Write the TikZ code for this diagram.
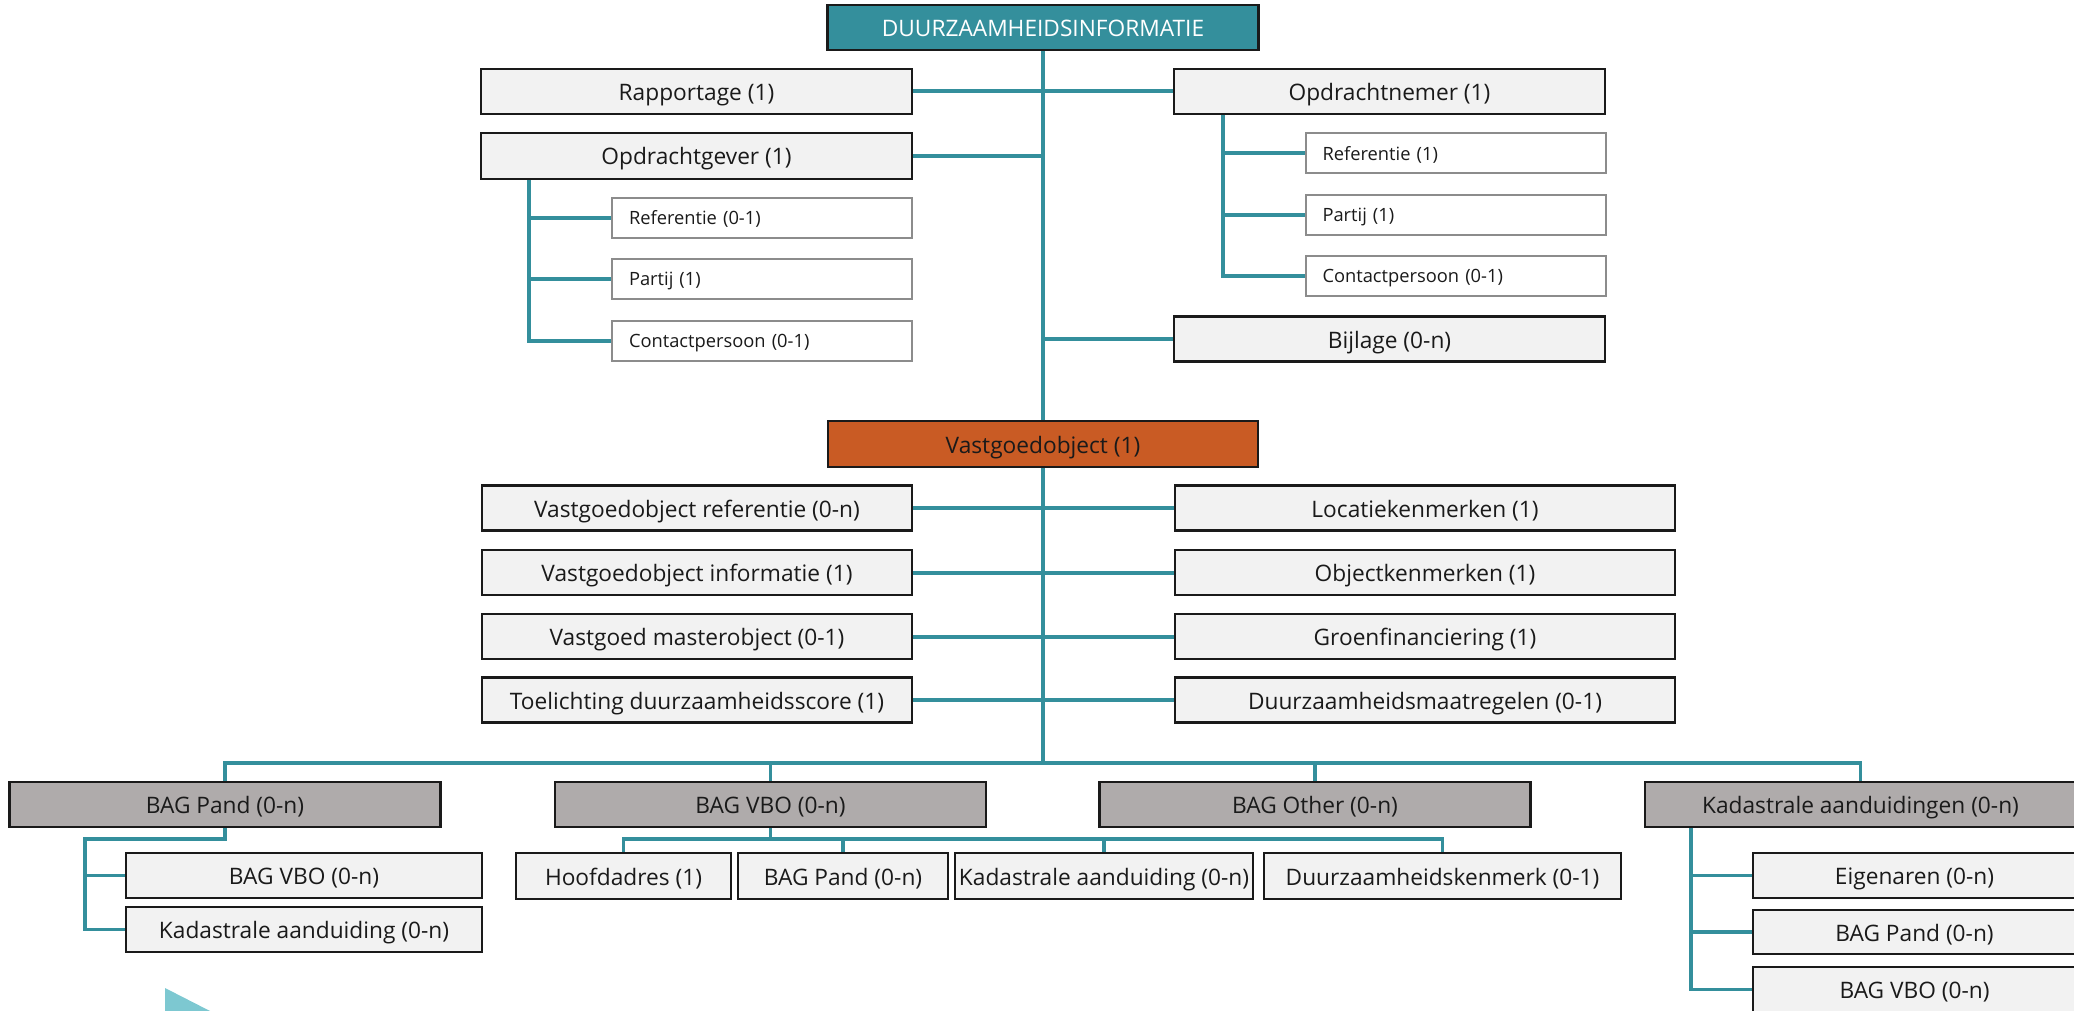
\documentclass[tikz,border=0pt]{standalone}
\usepackage{fontspec}
\setmainfont{Open Sans}
\usetikzlibrary{backgrounds}
\definecolor{teal1}{HTML}{348F9C}
\definecolor{orng}{HTML}{C95B24}
\definecolor{lgrey}{HTML}{F2F2F2}
\definecolor{dgrey}{HTML}{AFABAB}
\definecolor{sgrey}{HTML}{8C8C8C}
\definecolor{trico}{HTML}{7DC8D1}
\definecolor{ink}{HTML}{1A1A1A}
\begin{document}
\begin{tikzpicture}[x=1pt,y=-1pt,
  base/.style={rectangle, inner sep=0pt, text=ink, font=\fontsize{22.7}{27}\selectfont, text height=20pt, text depth=2pt, line width=2.5pt, draw=ink},
  bigbox/.style={base, fill=lgrey, minimum width=431pt, minimum height=45pt},
  titlebox/.style={base, fill=teal1, text=white, minimum width=431pt, minimum height=45pt},
  mainbox/.style={base, fill=orng, minimum width=430pt, minimum height=46pt},
  bagbox/.style={base, fill=dgrey, minimum width=431pt, minimum height=45pt},
  childbox/.style={base, fill=lgrey, minimum height=45pt},
  smallbox/.style={rectangle, draw=sgrey, line width=2pt, fill=white, font=\fontsize{18.3}{22}\selectfont, text height=15pt, text depth=1.5pt, text=ink, align=left, text width=266pt, inner xsep=17pt, inner ysep=0pt, minimum height=40pt},
  conn/.style={draw=teal1, line width=4pt},
  thinconn/.style={draw=teal1, line width=3.3pt}
]
\useasboundingbox (0,0) rectangle (2074,1011);

% top level
\node[titlebox] (title) at (1043,27.5) {DUURZAAMHEIDSINFORMATIE};
\node[bigbox] (rap) at (696.5,91.5) {Rapportage (1)};
\node[bigbox, minimum height=46pt] (opg) at (696.5,156) {Opdrachtgever (1)};
\node[smallbox] (ref1) at (762,218) {Referentie (0-1)};
\node[smallbox] (par1) at (762,279) {Partij (1)};
\node[smallbox] (con1) at (762,340.5) {Contactpersoon (0-1)};
\node[bigbox] (opn) at (1389.5,91.5) {Opdrachtnemer (1)};
\node[smallbox] (ref2) at (1455.5,153.5) {Referentie (1)};
\node[smallbox] (par2) at (1455.5,215) {Partij (1)};
\node[smallbox] (con2) at (1455.5,276) {Contactpersoon (0-1)};
\node[bigbox] (bij) at (1389.5,339) {Bijlage (0-n)};

% vastgoedobject
\node[mainbox] (vgo) at (1043,444) {Vastgoedobject (1)};
\node[bigbox, minimum width=430pt] (l1) at (697,508) {Vastgoedobject referentie (0-n)};
\node[bigbox, minimum width=430pt] (l2) at (697,572.5) {Vastgoedobject informatie (1)};
\node[bigbox, minimum width=430pt] (l3) at (697,636.5) {Vastgoed masterobject (0-1)};
\node[bigbox, minimum width=430pt] (l4) at (697,700) {Toelichting duurzaamheidsscore (1)};
\node[bigbox, minimum width=500pt] (r1) at (1425,508) {Locatiekenmerken (1)};
\node[bigbox, minimum width=500pt] (r2) at (1425,572.5) {Objectkenmerken (1)};
\node[bigbox, minimum width=500pt] (r3) at (1425,636.5) {Groenfinanciering (1)};
\node[bigbox, minimum width=500pt] (r4) at (1425,700) {Duurzaamheidsmaatregelen (0-1)};

% BAG level
\node[bagbox] (bagpand) at (225,804.5) {BAG Pand (0-n)};
\node[bagbox] (bagvbo) at (770.5,804.5) {BAG VBO (0-n)};
\node[bagbox] (bagother) at (1315,804.5) {BAG Other (0-n)};
\node[bagbox] (kad) at (1860.5,804.5) {Kadastrale aanduidingen (0-n)};

\node[childbox, minimum width=356pt] (pvbo) at (304,875.5) {BAG VBO (0-n)};
\node[childbox, minimum width=356pt] (pkad) at (304,929.5) {Kadastrale aanduiding (0-n)};

\node[childbox, minimum width=215pt, minimum height=46pt] (hoofd) at (623.5,876) {Hoofdadres (1)};
\node[childbox, minimum width=210pt, minimum height=46pt] (vpand) at (843,876) {BAG Pand (0-n)};
\node[childbox, minimum width=298pt, minimum height=46pt] (vkad) at (1104,876) {Kadastrale aanduiding (0-n)};
\node[childbox, minimum width=357pt, minimum height=46pt] (vduur) at (1442.5,876) {Duurzaamheidskenmerk (0-1)};

\node[childbox, minimum width=323pt] (keig) at (1914.5,875.5) {Eigenaren (0-n)};
\node[childbox, minimum width=323pt, minimum height=44pt] (kpand) at (1914.5,932) {BAG Pand (0-n)};
\node[childbox, minimum width=323pt] (kvbo) at (1914.5,989.5) {BAG VBO (0-n)};

% decorative triangle
\fill[trico] (165,988) -- (212,1012) -- (165,1012) -- cycle;

% connectors
\coordinate (bus) at (1043,763);
\coordinate (oj) at (529,179);
\coordinate (nj) at (1223,114);
\coordinate (pj) at (85,839);
\coordinate (vj) at (770.5,839);
\coordinate (kj) at (1691,827);

\begin{scope}[on background layer]
\draw[conn] (title.south) -- (vgo.north);
\draw[conn] (vgo.south) -- (bus);
\draw[conn] (rap.east) -- (opn.west);
\draw[conn] (opg.east) -- (opg.east -| title.south);
\draw[conn] (bij.west) -- (bij.west -| title.south);

\draw[conn] (oj) |- (con1.west);
\draw[conn] (oj |- ref1.west) -- (ref1.west);
\draw[conn] (oj |- par1.west) -- (par1.west);

\draw[conn] (nj) |- (con2.west);
\draw[conn] (nj |- ref2.west) -- (ref2.west);
\draw[conn] (nj |- par2.west) -- (par2.west);

\draw[conn] (l1.east) -- (r1.west);
\draw[conn] (l2.east) -- (r2.west);
\draw[conn] (l3.east) -- (r3.west);
\draw[conn] (l4.east) -- (r4.west);

\draw[thinconn] (bagpand.north) |- (bus) -| (kad.north);
\draw[thinconn] (bagvbo.north) |- (bus);
\draw[thinconn] (bagother.north) |- (bus);

\draw[thinconn] (bagpand.south) |- (pj) |- (pkad.west);
\draw[thinconn] (pj |- pvbo.west) -- (pvbo.west);

\draw[thinconn] (bagvbo.south) -- (vj);
\draw[thinconn] (hoofd.north) |- (vj) -| (vduur.north);
\draw[thinconn] (vpand.north) |- (vj);
\draw[thinconn] (vkad.north) |- (vj);

\draw[thinconn] (kj) |- (kvbo.west);
\draw[thinconn] (kj |- keig.west) -- (keig.west);
\draw[thinconn] (kj |- kpand.west) -- (kpand.west);
\end{scope}
\end{tikzpicture}
\end{document}
